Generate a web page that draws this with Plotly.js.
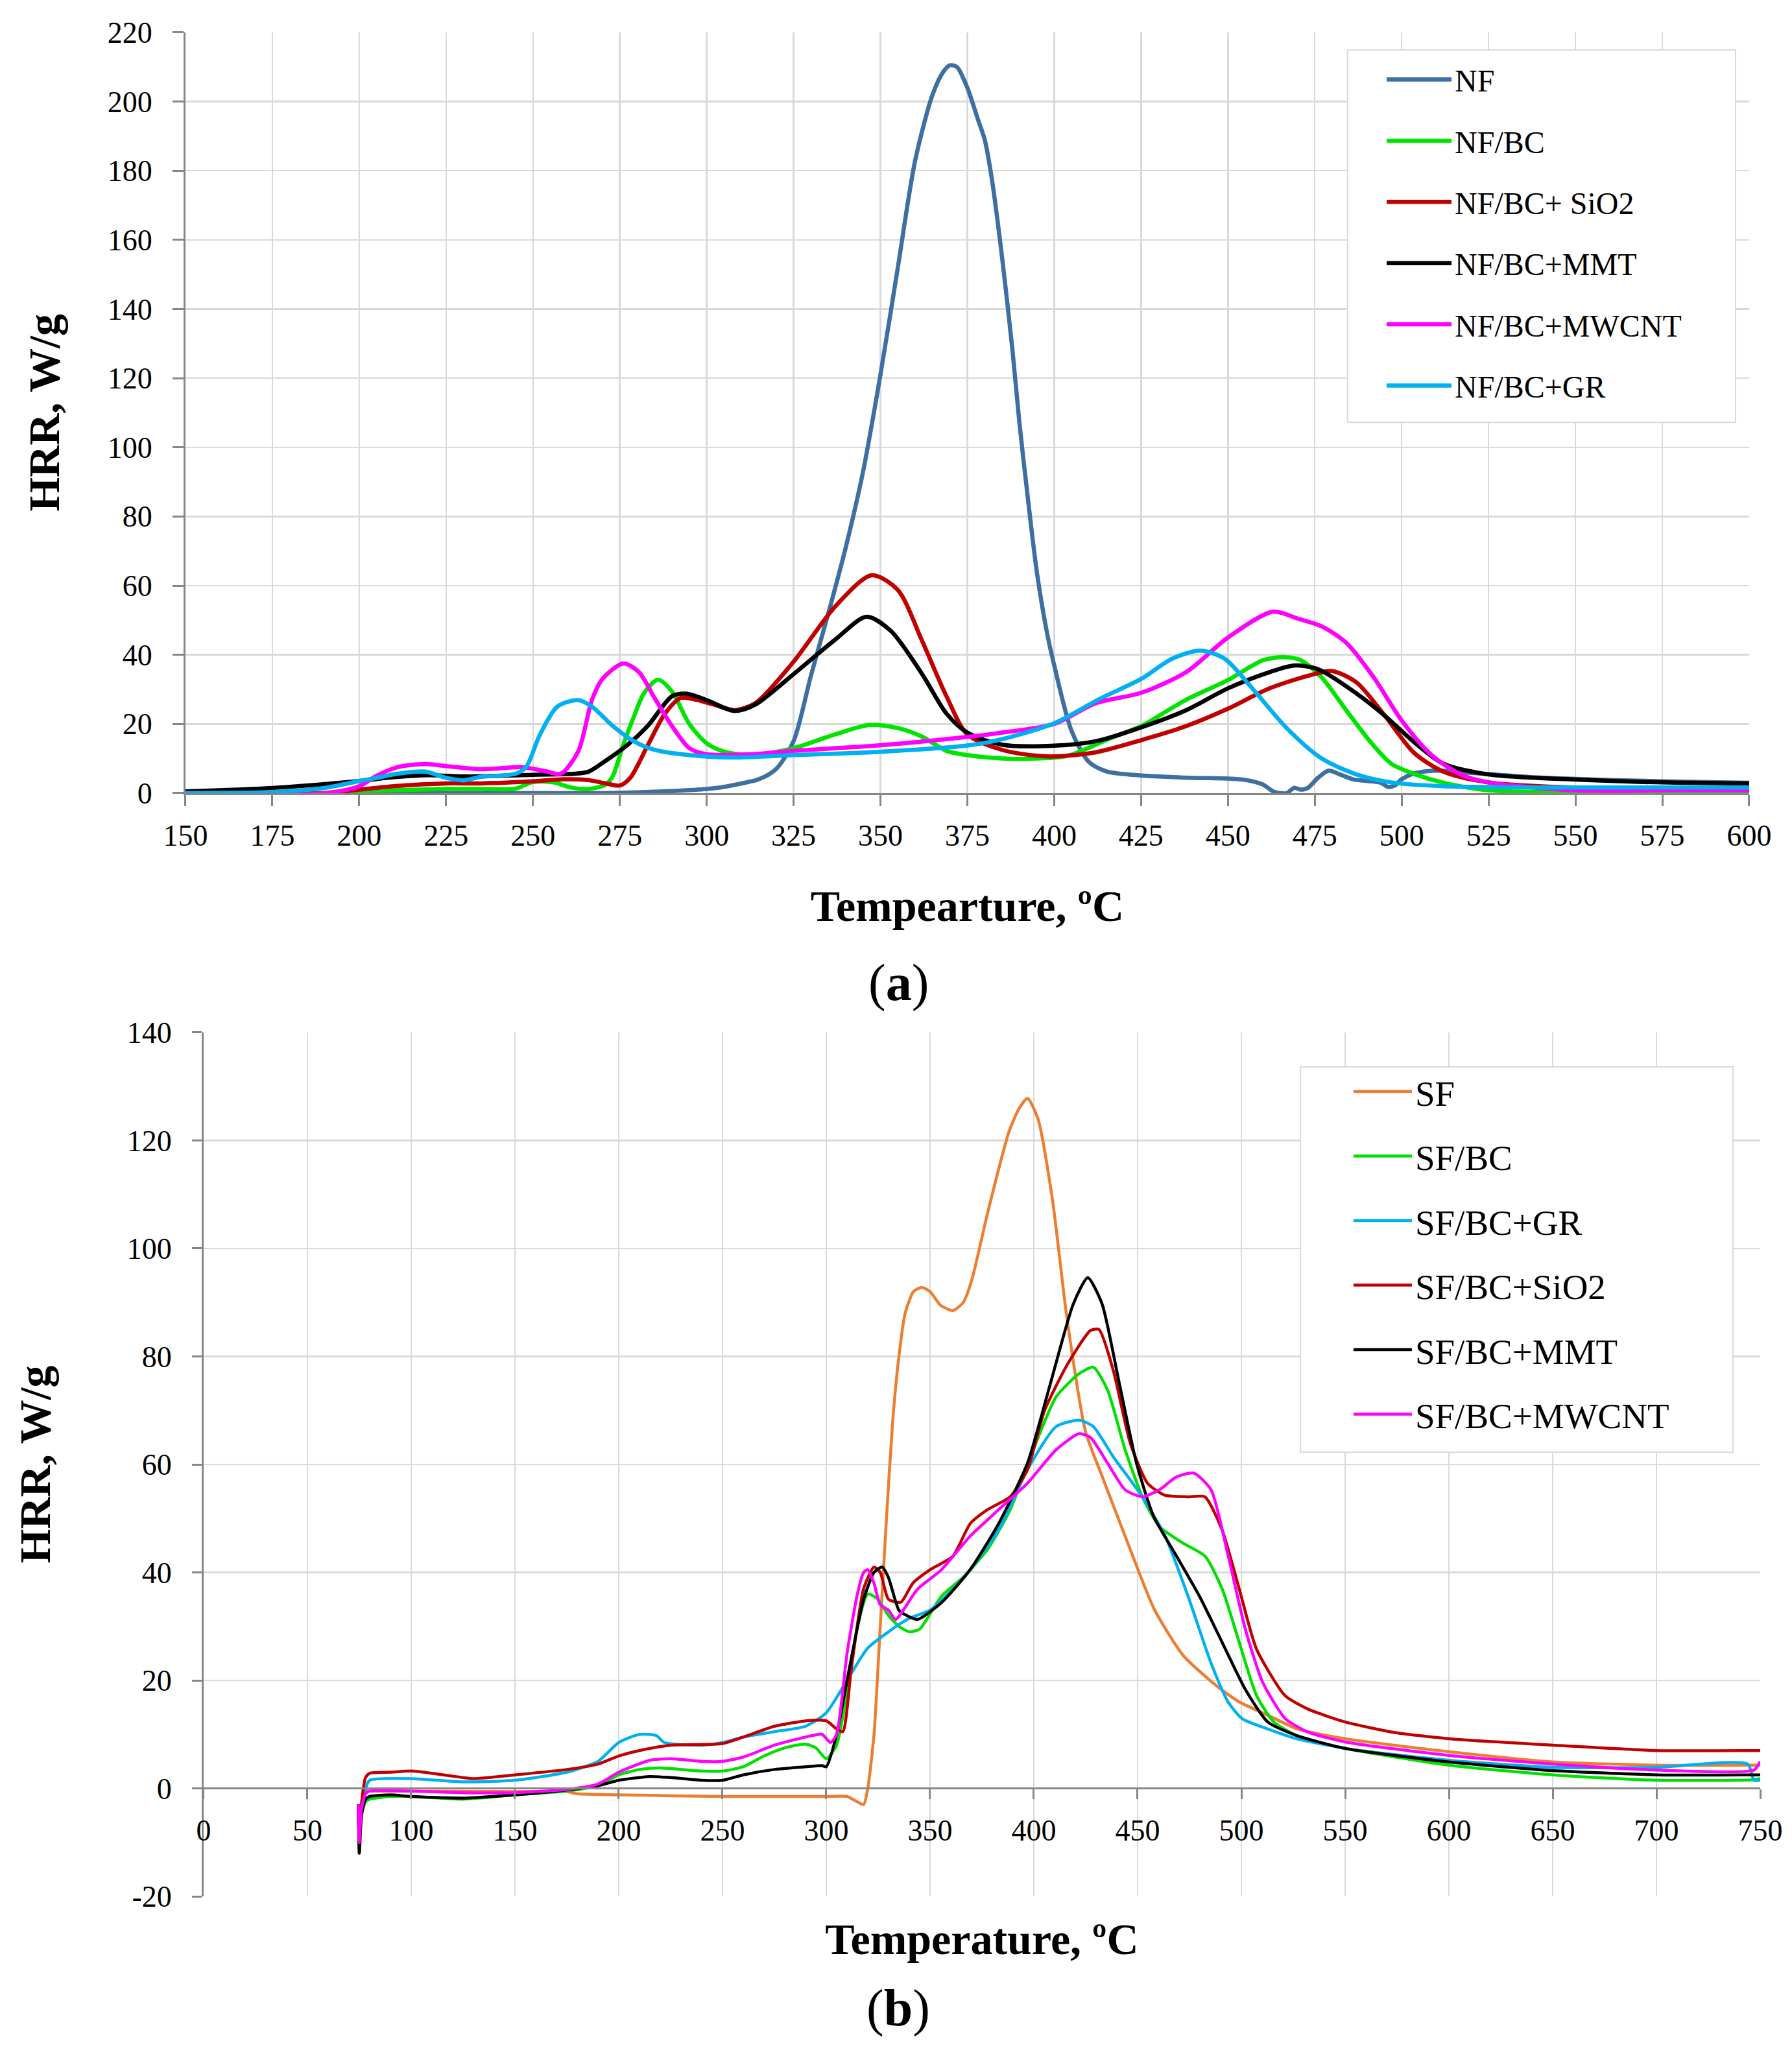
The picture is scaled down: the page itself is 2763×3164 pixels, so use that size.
<!DOCTYPE html>
<html>
<head>
<meta charset="utf-8">
<script src="https://cdn.plot.ly/plotly-3.0.1.min.js"></script>
<style>
  html, body { margin: 0; padding: 0; background: #fff; }
  #chart { width: 2763px; height: 3164px; }
</style>
</head>
<body>
<div id="chart"></div>
<script>
// ---- panel (a): NF series, temperature (C) vs HRR (W/g) ----
var nf_t = [150,200,250,270,280,290,300,305,310,315,320,325,330,335,340,345,350,355,360,365,368,370,372,375,378,380,382,385,388,390,392,395,398,400,405,410,415,420,430,440,450,455,460,463,465,467,469,471,473,476,479,482,486,490,494,496,498,500,503,507,512,518,525,540,560,580,600];
var nf_h = [0,0,0,0,0.2,0.6,1.2,1.8,2.8,4,7,15,34,52,71,93,121,152,183,202,208.5,210.5,210,204,195,189,178,155,128,107,89,64,46,37,18,9,6.3,5.5,4.8,4.4,4.2,3.8,2.5,0.5,0,0,1.5,1,1.5,4.5,6.5,5.5,4,3.5,3,1.8,2.2,4,5.5,6.3,6.5,6,5.5,4.5,3.8,3.3,3];

var nfbc_t = [150,175,195,200,210,225,235,245,250,256,261,266,271,273,276,279,282,286,290,295,300,305,313,325,337,347,355,362,369,375,385,395,404,416,425,438,450,460,466,471,477,484,491,497,504,512,525,550,575,600];
var nfbc_h = [0,0,0,0.5,0.8,1.2,1.2,1.3,3.2,3.1,1.6,1.2,2.5,5,14,22,29,32.8,29.4,20,14.4,12,11,13,17,19.7,18.8,16.3,12.2,11,10,10,10.8,15.8,19.4,27,32.7,38.4,39.3,38.4,33.4,24,14.8,8.5,5.4,3,0.8,0.3,0.3,0.3];

var nfsio2_t = [150,190,200,210,225,235,250,259,266,271,275,278,283,288,292.5,296,302,308,314,325,337,347.5,355,362,369,375,385,395,400,412,425,438,450,462,474,480,487,495,503.5,512,525,550,575,600];
var nfsio2_h = [0,0,1,2,2.8,2.8,3.4,4,3.75,2.8,2.2,4.4,13.75,23,27.5,27.2,25.6,24,26,38,54,63,58.75,44,28,17,12.5,10.8,10.6,11.8,15.3,19.4,24.4,30.3,34.2,35.3,32,22.6,11.7,6.2,3.1,1.6,1.5,1.5];

var nfmmt_t = [150,175,200,210,220,230,240,250,262,266,271,277,283,290,294,300,308,314,325,337,346,353,362,369,375,385,400,412,425,438,450,462,469,476,487,495,503.5,512,525,550,575,600];
var nfmmt_h = [0.5,1.5,3.5,4.6,5.2,4.8,5,5.3,5.6,6.2,9.4,13.75,19.4,28,28.75,26.9,23.75,25.6,34.4,44.4,51,46.9,34.4,23,17.5,14,13.7,15,19,24,30.3,35,36.9,35.8,28.8,22.5,14.8,8.5,5.4,3.9,3.1,2.8];

var nfmw_t = [150,190,200,205,211,219,225,235,247,254,258,263,267,270,276,280.5,285,290,295,300,313,325,349,375,385,400,412,425,438,450,463,470,477,484,492,500,508.6,517,525,550,575,600];
var nfmw_h = [0,0,2,5,7.5,8.4,7.8,6.9,7.5,6.25,5.6,12,27,33,37.5,35,27.5,19.4,13,11.25,11.25,12.2,13.75,16.25,17.5,20,26,29,35,45,52.5,50.5,48.2,43.5,33.4,21,11,5.4,3.1,0.8,0.8,0.8];

var nfgr_t = [150,175,190,200,205,211,219,225,230,235,245,248,252,257,263,267,273,279,285,295,307,325,349,375,385,400,413,425,434,442,449,457,467,477,487,497,512,550,600];
var nfgr_h = [0,0.3,1.5,3.5,4.4,5.6,6.2,4.4,3.7,4.7,5.6,7.5,16.9,25,26.9,25,19.4,15,12.5,11,10.3,11,11.9,13.75,15.6,20.2,27.2,33,38.9,41.2,38.9,30.3,18.7,10,5.4,3.1,2,1.6,1.6];

var names_a = ['NF', 'NF/BC', 'NF/BC+ SiO2', 'NF/BC+MMT', 'NF/BC+MWCNT', 'NF/BC+GR'];
var colors_a = ['#3D6FA0', '#00E400', '#C00000', '#000000', '#FF00FF', '#00B0F0'];

// ---- panel (b): SF series ----
var sf_t = [74.5,75,76,78,80,100,150,175,180,200,250,300,310,315,318,320,323,326,329,332,335,338,342,346,350,355,361,366,370,378,388,393,397,402,409,416,425,433,444,458,472,488,499,513,527,550,600,650,700,747,750];
var sf_h = [-3,-12,-6,-0.5,-0.5,-0.5,-0.6,-0.6,-1,-1.2,-1.5,-1.5,-1.5,-2.5,-3,0,10,30,50,68,80,88,92,92.8,92,89.5,88.5,90,94,107,121.6,126,127.8,124,109,87,66,57.7,46.7,33.2,24.6,19,16,13.5,11,9.2,6.8,4.9,4.3,4.3,4.3];

var sfbc_t = [74.5,75,76,78,80,90,100,125,150,175,190,200,210,220,240,250,260,270,280,290,295,300,305,310,315,320,325,330,335,340,345,355.5,366.5,377.6,388.6,399.7,410.7,421.8,428.7,435.6,444,452.3,460.5,471.5,482.5,490.8,499,507.3,515.6,526.5,550,600,650,700,747,750];
var sfbc_h = [-3,-10,-5,-2.5,-2,-1.5,-1.5,-2,-1.2,-0.5,0.5,2.5,3.5,3.8,3.2,3.2,4,6,7.5,8.2,7.5,5.5,8,18,30,36,35,32,30,29,29.5,35.6,39.3,44.2,51.6,62.7,72.5,76.8,78,73.7,62.7,54,48.5,45.5,43,36.9,27,17.2,12.3,9.8,7.4,4.3,2.5,1.5,1.6,1.8];

var sfgr_t = [74.5,75,76,78,80,100,125,150,175,190,200,210,218,222,240,250,260,275,290,300,310,320,330,340,350,360,369.3,383,396.9,410.7,421.8,428.7,438.3,452.3,463.3,474.3,485.3,493.6,500.4,512.7,526.5,550,600,650,700,744,747,750];
var sfgr_h = [-3,-9,-4,0,1.5,1.8,1.2,1.5,3,5,8.5,10,9.8,8.5,8,8.5,9.5,10.5,11.5,14,20,26,29,31.5,33,36.5,40.5,47.9,59,67,68.2,67,61.4,54,46.7,35.6,23.3,16,12.9,11,9.2,7.4,5.2,3.9,3.9,4.5,1.5,1.5];

var sfsio2_t = [74.5,75,76,78,80,90,100,110,125,130,150,175,190,200,210,225,250,260,275,290,300,305,308,312,318,323,326,330,336,341.7,350,361,369.3,377.6,388.6,396.9,405.2,416.3,427.3,431.4,438.3,446.5,454.8,463.1,474.1,482.4,490.7,499,507.3,521,532,550,573,600,650,700,747,750];
var sfsio2_h = [-3,-9,-3,2,2.8,3,3.2,2.8,2,1.8,2.5,3.5,4.5,6,7,8,8.3,9.5,11.5,12.5,12.5,11,10.5,22,37,41,40,35,34.5,38,40.5,43,49,51.6,54,59,70,78.6,84.8,85,77.4,63.9,56.5,54.3,54,54,47.9,36.9,25.8,17.2,14.7,12.3,10.4,9.2,8,7,7,7];

var sfmmt_t = [74.5,75,76,78,80,90,100,125,150,175,190,200,215,225,240,250,260,275,290,298,300,305,310,318,323,327,330,335,338.9,344,355.5,369.3,383,396.9,408,419,426,432.9,441.2,449.5,457.7,468.8,479.8,490.8,501.8,512.7,526.5,550,600,650,700,747,750];
var sfmmt_h = [-3,-12,-5,-2,-1.5,-1.2,-1.5,-1.8,-1.2,-0.3,0.5,1.5,2.2,2,1.5,1.5,2.5,3.5,4,4.2,4,10,20,35,40,41,39,33,32,31.3,34.4,40.5,49,60.2,75,89.7,94.6,89.7,75,60.2,50.4,43,35.6,27,18.4,12.3,9.8,7.4,4.9,3.3,2.5,2.5,2.5];

var sfmw_t = [74.5,75,76,78,80,100,125,150,175,190,200,215,225,240,250,260,275,290,298,302,305,310,315,318,320,323,326,330,333.4,344,355.5,369.3,383,396.9,410.7,421.8,427.3,435.6,444,452.3,460.5,468.8,477.1,485.4,493.7,501.9,510.2,521.2,532.3,550,600,650,700,747,750];
var sfmw_h = [-3,-10,-4,-1,-0.5,-0.5,-0.8,-0.8,-0.2,0.8,3,5.2,5.5,5,5,5.8,8,9.5,10,8.5,10,25,36,40,40.5,38,34,33,31.3,36.9,40.5,46.7,51.6,56.5,62.7,65.7,65,60.2,55.3,54,55.3,57.7,58.4,55.3,43,29.5,19.7,12.9,10.4,8.6,6.1,4.5,3.4,3.4,5];

var names_b = ['SF', 'SF/BC', 'SF/BC+GR', 'SF/BC+SiO2', 'SF/BC+MMT', 'SF/BC+MWCNT'];
var colors_b = ['#ED7D31', '#00E000', '#00B0F0', '#C00000', '#000000', '#FF00FF'];

// y tick labels of panel (b), written with a plain hyphen like the original
var yticks_b = [-20, 0, 20, 40, 60, 80, 100, 120, 140];
var yticktext_b = ['-20', '0', '20', '40', '60', '80', '100', '120', '140'];

var serif = 'Liberation Serif, Times New Roman, serif';

//build traces for the two panels
var xs_a = [nf_t, nfbc_t, nfsio2_t, nfmmt_t, nfmw_t, nfgr_t];
var ys_a = [nf_h, nfbc_h, nfsio2_h, nfmmt_h, nfmw_h, nfgr_h];
var xs_b = [sf_t, sfbc_t, sfgr_t, sfsio2_t, sfmmt_t, sfmw_t];
var ys_b = [sf_h, sfbc_h, sfgr_h, sfsio2_h, sfmmt_h, sfmw_h];

var data = [];
for (var i = 0; i < names_a.length; i++){
	data.push({
		x: xs_a[i], y: ys_a[i], name: names_a[i],
		type: 'scatter', mode: 'lines',
		line: {color: colors_a[i], width: 6.5, shape: 'spline', smoothing: 0.8},
		xaxis: 'x', yaxis: 'y',
		legend: 'legend', legendgroup: 'a' + i
	});
}
for (var j = 0; j < names_b.length; j++){
	data.push({
		x: xs_b[j], y: ys_b[j], name: names_b[j],
		type: 'scatter', mode: 'lines',
		line: {color: colors_b[j], width: 4.5, shape: 'spline', smoothing: 0.6},
		xaxis: 'x2', yaxis: 'y2',
		legend: 'legend2', legendgroup: 'b' + j
	});
}

var axisStyle = {
	showgrid: true, gridcolor: '#D9D9D9', gridwidth: 2.5,
	showline: true, linecolor: '#868686', linewidth: 3,
	ticks: 'outside', tickcolor: '#868686', tickwidth: 3,
	zeroline: false,
	tickfont: {family: serif, size: 46, color: '#000'}
};

function ax(extra){
	return Object.assign({}, axisStyle, extra);
}

var titleFont = {family: serif, size: 68, weight: 'bold', color: '#000'};

var layout = {
	width: 2763, height: 3164,
	margin: {l: 0, r: 0, t: 0, b: 0},
	paper_bgcolor: '#fff', plot_bgcolor: '#fff',
	font: {family: serif, color: '#000'},
	xaxis: ax({
		domain: [0.1035, 0.9761], range: [150, 600], tick0: 150, dtick: 25,
		ticklen: 17, ticklabelstandoff: 6, anchor: 'y',
		title: {text: 'Tempearture, ºC', standoff: 60, font: titleFont}
	}),
	yaxis: ax({
		domain: [0.6135, 0.9842], range: [0, 220], dtick: 20,
		ticklen: 17, ticklabelstandoff: 22, anchor: 'x',
		title: {text: 'HRR, W/g', standoff: 52, font: titleFont}
	}),
	xaxis2: ax({
		domain: [0.11364, 0.98227], range: [0, 750], tick0: 0, dtick: 50,
		ticklen: 15, ticklabelstandoff: 8, anchor: 'free', position: 0.12848,
		title: {text: 'Temperature, ºC', standoff: 118, font: titleFont}
	}),
	yaxis2: ax({
		domain: [0.07585, 0.49684], range: [-20, 140],
		tickmode: 'array', tickvals: yticks_b, ticktext: yticktext_b,
		ticklen: 15, ticklabelstandoff: 22, anchor: 'x2',
		title: {text: 'HRR, W/g', standoff: 96, font: titleFont}
	}),
	legend: {
		x: 0.772, y: 0.9732, xanchor: 'left', yanchor: 'top',
		bgcolor: 'rgba(0,0,0,0)', borderwidth: 0,
		font: {family: serif, size: 48, color: '#000'},
		itemwidth: 100, tracegroupgap: 29, traceorder: 'grouped'
	},
	legend2: {
		x: 0.7535, y: 0.4814, xanchor: 'left', yanchor: 'top',
		bgcolor: 'rgba(0,0,0,0)', borderwidth: 0,
		font: {family: serif, size: 55, color: '#000'},
		itemwidth: 90, tracegroupgap: 25, traceorder: 'grouped'
	},
	shapes: [
		// legend frames
		{type: 'rect', xref: 'paper', yref: 'paper', x0: 0.752, x1: 0.9685, y0: 0.7942, y1: 0.9757,
		 line: {color: '#D9D9D9', width: 2}, fillcolor: '#fff', layer: 'above'},
		{type: 'rect', xref: 'paper', yref: 'paper', x0: 0.7257, x1: 0.9671, y0: 0.2923, y1: 0.4801,
		 line: {color: '#D9D9D9', width: 2}, fillcolor: '#fff', layer: 'above'}
	],
	annotations: [
		{text: '(<b>a</b>)', xref: 'paper', yref: 'paper', x: 0.5013, y: 0.5209,
		 showarrow: false, font: {family: serif, size: 80}},
		{text: '(<b>b</b>)', xref: 'paper', yref: 'paper', x: 0.5013, y: 0.0065,
		 xanchor: 'center', yanchor: 'bottom',
		 showarrow: false, font: {family: serif, size: 80}}
	]
};

Plotly.newPlot('chart', data, layout, {staticPlot: true});
</script>
</body>
</html>
